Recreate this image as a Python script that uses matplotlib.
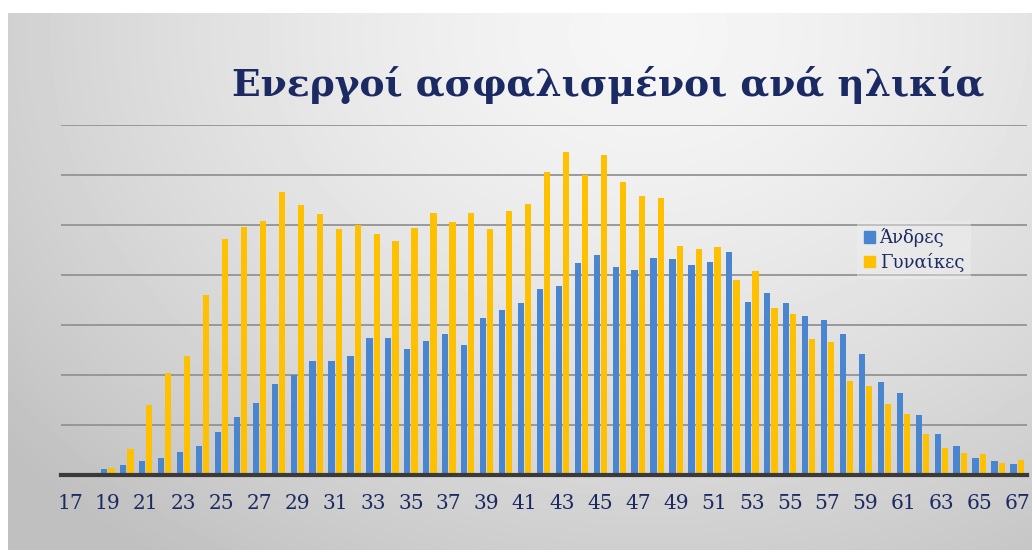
import numpy as np
import matplotlib.pyplot as plt
from matplotlib.patches import Patch

ages = list(range(17, 68))
men = [0, 0, 0.12, 0.21, 0.29, 0.35, 0.46, 0.58, 0.87, 1.17, 1.45, 1.83, 2.01, 2.29, 2.29, 2.38,
       2.75, 2.75, 2.53, 2.68, 2.82, 2.60, 3.14, 3.31, 3.44, 3.73, 3.79, 4.25, 4.40, 4.16, 4.11, 4.35,
       4.33, 4.21, 4.27, 4.47, 3.47, 3.65, 3.45, 3.18, 3.11, 2.83, 2.42, 1.87, 1.65, 1.20, 0.83, 0.58,
       0.35, 0.28, 0.23]
women = [0, 0, 0.15, 0.52, 1.41, 2.05, 2.39, 3.60, 4.73, 4.97, 5.09, 5.67, 5.40, 5.23, 4.93, 5.00,
         4.82, 4.68, 4.95, 5.25, 5.07, 5.25, 4.93, 5.29, 5.42, 6.06, 6.47, 6.00, 6.41, 5.86, 5.59, 5.54,
         4.58, 4.53, 4.56, 3.90, 4.08, 3.35, 3.22, 2.72, 2.66, 1.88, 1.78, 1.43, 1.23, 0.83, 0.55, 0.45,
         0.42, 0.25, 0.31]
men = np.array(men) * 1000
women = np.array(women) * 1000
tick_ages = ages[::2]

title = "Ενεργοί ασφαλισμένοι ανά ηλικία"
labels = ["Άνδρες", "Γυναίκες"]
blue = "#4A86D0"
gold = "#FFC000"
navy = "#1B2A63"

W, H = 1032, 550
fig = plt.figure(figsize=(W / 100, H / 100), dpi=100)
fig.patch.set_facecolor("white")

# soft radial gray background
bg = fig.add_axes([8 / W, 0, 1 - 8 / W, 1 - 13 / H])
yy, xx = np.mgrid[0:537, 0:1024]
r = np.sqrt(((xx - 640) / 800.0) ** 2 + ((yy - 20) / 620.0) ** 2)
shade = 0.965 - 0.2 * np.clip(r, 0, 1.05) ** 1.4
bg.imshow(shade, cmap="gray", vmin=0, vmax=1, aspect="auto", extent=[0, 1, 0, 1],
          origin="upper", interpolation="bilinear")
bg.axis("off")

ax = fig.add_axes([60.5 / W, 75 / H, 966 / W, 350 / H])
ax.patch.set_alpha(0)
x = np.array(ages)
bw = 0.33
ax.bar(x - 0.19, men, bw, color=blue, label=labels[0], zorder=3)
ax.bar(x + 0.19, women, bw, color=gold, label=labels[1], zorder=3)
ax.set_xlim(16.5, 67.5)
ax.set_ylim(0, 7000)
ax.set_yticks(np.arange(1000, 7001, 1000))
ax.yaxis.grid(True, color="#939393", lw=1.3, zorder=1)
ax.tick_params(axis="y", left=False, labelleft=False)
ax.set_xticks(tick_ages)
ax.set_xticklabels([str(a) for a in tick_ages], fontsize=14.5, family="DejaVu Serif", color=navy)
ax.tick_params(axis="x", length=0, pad=14)
for s in ["left", "right", "top"]:
    ax.spines[s].set_visible(False)
ax.spines["bottom"].set_color("#3a3a3a")
ax.spines["bottom"].set_linewidth(3)
ax.spines["bottom"].set_zorder(4)

handles = [Patch(color=blue), Patch(color=gold)]
leg = fig.legend(handles, labels, loc="upper left", bbox_to_anchor=(848 / W, 1 - 212 / H),
                 frameon=True, facecolor="#f0f0f0", edgecolor="none", framealpha=0.45,
                 prop={"family": "DejaVu Serif", "size": 13}, handlelength=0.6, handleheight=0.6,
                 handletextpad=0.25, labelspacing=0.3, borderpad=0.4)
for t in leg.get_texts():
    t.set_color(navy)

t = fig.text(232 / W, 1 - 96 / H, title, fontsize=28, fontweight="bold",
             family="DejaVu Serif", color=navy, ha="left", va="baseline")
fig.canvas.draw()
bb = t.get_window_extent()
t.set_fontsize(28 * 753 / bb.width)

fig.savefig("out.png", dpi=100)
